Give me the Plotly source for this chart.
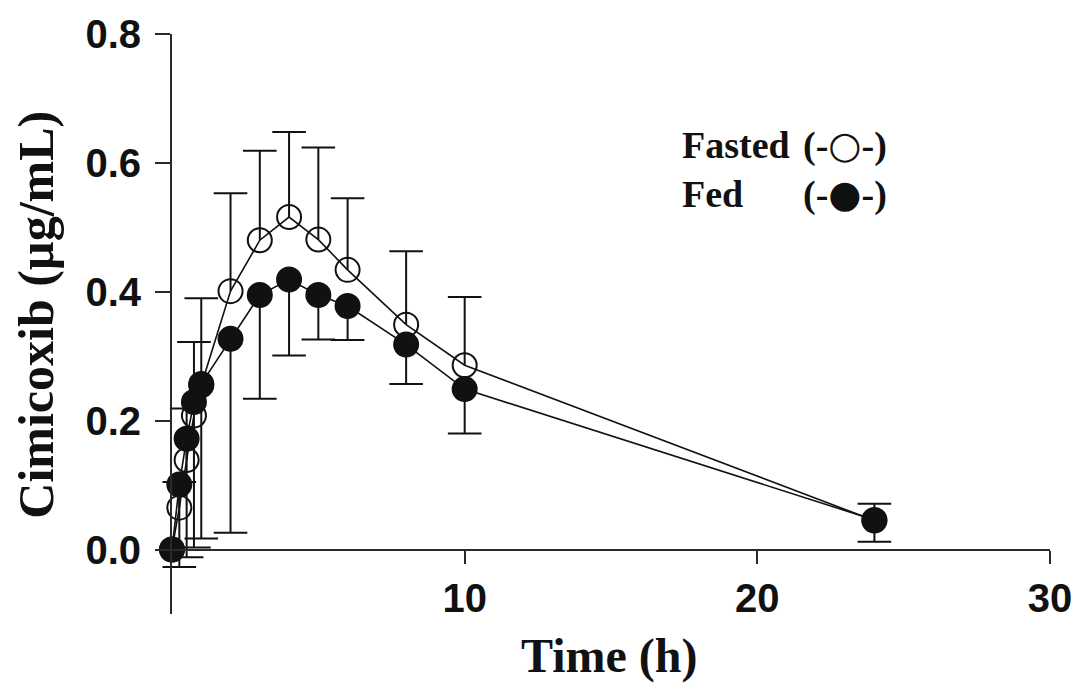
import plotly.graph_objects as go

# ---- data ----
time_h = [0, 0.25, 0.5, 0.75, 1, 2, 3, 4, 5, 6, 8, 10, 24]
fasted_mean = [0, 0.065, 0.139, 0.208, 0.255, 0.401, 0.480, 0.516, 0.481, 0.434, 0.349, 0.286, 0.045]
fasted_sd = [0, 0.040, 0.080, 0.114, 0.135, 0.152, 0.139, 0.132, 0.143, 0.111, 0.114, 0.106, 0.026]
fed_mean = [0, 0.101, 0.172, 0.229, 0.257, 0.327, 0.395, 0.419, 0.395, 0.378, 0.318, 0.249, 0.046]
fed_sd = [0, 0.128, 0.184, 0.226, 0.240, 0.301, 0.161, 0.118, 0.069, 0.053, 0.061, 0.069, 0.034]

y_ticks = [0.0, 0.2, 0.4, 0.6, 0.8]
y_ticklabels = ["0.0", "0.2", "0.4", "0.6", "0.8"]
x_ticks = [10, 20, 30]
x_ticklabels = ["10", "20", "30"]

INK = "#111111"
AX = "#2a2a2a"
SERIF = "Liberation Serif, Times New Roman, serif"
SANS = "Liberation Sans, Arial, sans-serif"


def err_segments(t, m, s, direction):
    xs, ys, cx, cy = [], [], [], []
    for ti, mi, si in zip(t, m, s):
        if si <= 0:
            continue
        end = mi + direction * si
        xs += [ti, ti, None]
        ys += [mi, end, None]
        cx.append(ti)
        cy.append(end)
    return xs, ys, cx, cy


fig = go.Figure()


def add_series(mean, sd, direction, symbol):
    xs, ys, cx, cy = err_segments(time_h, mean, sd, direction)
    fig.add_trace(go.Scatter(x=xs, y=ys, mode="lines", line=dict(color=INK, width=2),
                             hoverinfo="skip", showlegend=False, cliponaxis=False))
    fig.add_trace(go.Scatter(x=cx, y=cy, mode="markers",
                             marker=dict(symbol="line-ew", size=24, line=dict(color=INK, width=2)),
                             hoverinfo="skip", showlegend=False, cliponaxis=False))
    fig.add_trace(go.Scatter(x=time_h, y=mean, mode="lines+markers",
                             line=dict(color=INK, width=1.6),
                             marker=dict(symbol=symbol, size=24, color=INK,
                                         line=dict(color=INK, width=2)),
                             showlegend=False, cliponaxis=False))


add_series(fasted_mean, fasted_sd, +1, "circle-open")
add_series(fed_mean, fed_sd, -1, "circle")

fig.update_layout(
    width=1084, height=690,
    margin=dict(l=172, r=30, t=28, b=76),
    paper_bgcolor="white", plot_bgcolor="white",
    showlegend=False,
    xaxis=dict(range=[0, 30], anchor="free", position=0.1 / 0.9,
               showline=True, linewidth=2, linecolor=AX,
               ticks="outside", ticklen=13, tickwidth=2, tickcolor=AX,
               tickvals=x_ticks, ticktext=x_ticklabels,
               tickfont=dict(family=SANS, size=40, color=INK, weight="bold"),
               showgrid=False, zeroline=False),
    yaxis=dict(range=[-0.1, 0.8],
               showline=True, linewidth=2, linecolor=AX,
               ticks="outside", ticklen=15, tickwidth=2, tickcolor=AX,
               tickvals=y_ticks, ticktext=y_ticklabels, ticklabelstandoff=6,
               tickfont=dict(family=SANS, size=40, color=INK, weight="bold"),
               showgrid=False, zeroline=False),
)


def px2paper_x(px):
    return (px - 172) / (1084 - 172 - 30)


def px2paper_y(py):
    return (690 - 76 - py) / (690 - 28 - 76)


CIRC = '<span style="font-family:DejaVu Sans">{}</span>'
annots = [
    dict(text="<b>Time (h)</b>", x=px2paper_x(611), y=px2paper_y(656), xanchor="center", yanchor="middle",
         font=dict(family=SERIF, size=48, color=INK)),
    dict(text="<b>Cimicoxib (µg/mL)</b>", x=px2paper_x(35), y=px2paper_y(312), xanchor="center", yanchor="middle",
         textangle=-90, font=dict(family=SERIF, size=50, color=INK)),
    dict(text="<b>Fasted</b>", x=px2paper_x(682), y=px2paper_y(140), xanchor="left", yanchor="middle",
         font=dict(family=SERIF, size=38, color=INK)),
    dict(text="<b>(-" + CIRC.format("○") + "-)</b>", x=px2paper_x(804), y=px2paper_y(140),
         xanchor="left", yanchor="middle", font=dict(family=SERIF, size=38, color=INK)),
    dict(text="<b>Fed</b>", x=px2paper_x(682), y=px2paper_y(190), xanchor="left", yanchor="middle",
         font=dict(family=SERIF, size=38, color=INK)),
    dict(text="<b>(-" + CIRC.format("●") + "-)</b>", x=px2paper_x(804), y=px2paper_y(190),
         xanchor="left", yanchor="middle", font=dict(family=SERIF, size=38, color=INK)),
]
for a in annots:
    fig.add_annotation(xref="paper", yref="paper", showarrow=False, **a)

fig.write_html("out.html", config={"displayModeBar": False},
               post_script="document.body.style.margin='0';document.body.style.overflow='hidden';")
